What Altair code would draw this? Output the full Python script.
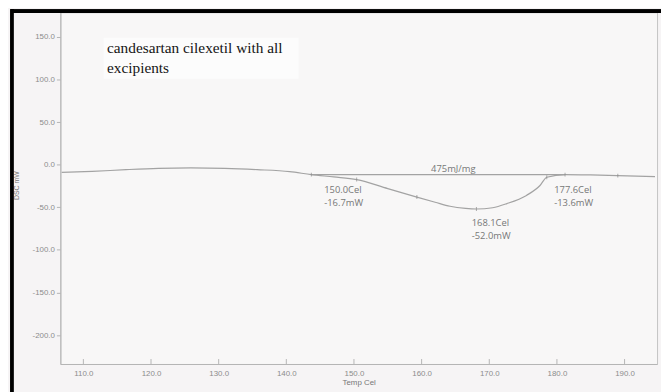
import altair as alt
import pandas as pd

# DSC curve (Temp Cel, DSC mW)
temps = [106.8, 111.3, 116.3, 121.1, 125.9, 130.9, 135.7, 140.5, 143.7, 147.0,
         150.4, 155.0, 159.3, 162.0, 164.2, 166.5, 168.1, 170.5, 172.6, 175.5,
         177.5, 178.5, 181.2, 185.0, 189.0, 194.5]
dsc = [-9.0, -7.8, -5.8, -4.3, -3.8, -4.3, -5.8, -8.1, -11.6, -14.3,
       -17.4, -28.0, -38.0, -44.0, -48.8, -51.3, -52.0, -50.5, -45.7, -36.0,
       -24.4, -14.7, -11.6, -12.0, -12.8, -14.0]

# integration baseline
base_t = [143.7, 181.2]
base_v = [-11.6, -11.6]

# small marks on the curve
mark_t = [143.7, 150.4, 159.3, 168.1, 178.5, 181.2, 189.0]
mark_v = [-11.6, -17.4, -38.0, -52.0, -14.7, -11.6, -12.8]

# annotations
ann_text = ["475mJ/mg", "150.0Cel", "-16.7mW", "168.1Cel", "-52.0mW", "177.6Cel", "-13.6mW"]
ann_t = [161.4, 145.6, 145.6, 167.4, 167.4, 179.6, 179.6]
ann_v = [-5.5, -30.0, -45.5, -68.5, -84.0, -30.0, -45.5]

title_lines = ["candesartan cilexetil with all", "excipients"]
title_t = [113.5, 113.5]
title_v = [137.5, 113.5]
box_t = [113.0, 141.8]
box_v = [149.0, 101.0]

x_ticks = [110, 120, 130, 140, 150, 160, 170, 180, 190]
y_ticks = [-200, -150, -100, -50, 0, 50, 100, 150]

X_DOM = [106.6, 194.8]
Y_DOM = [-234, 179]

W, H = 604, 356
GRAY = "#a3a3a3"
LBL = "#8c8c8c"

xs = alt.Scale(domain=X_DOM, nice=False, zero=False)
ys = alt.Scale(domain=Y_DOM, nice=False, zero=False)

curve_df = pd.DataFrame({"t": temps, "v": dsc})
base_df = pd.DataFrame({"t": base_t, "v": base_v})
mark_df = pd.DataFrame({"t": mark_t, "v": mark_v})
ann_df = pd.DataFrame({"t": ann_t, "v": ann_v, "s": ann_text})
title_df = pd.DataFrame({"t": title_t, "v": title_v, "s": title_lines})
box_df = pd.DataFrame({"t": [box_t[0]], "t2": [box_t[1]], "v": [box_v[0]], "v2": [box_v[1]]})
xt_df = pd.DataFrame({"t": x_ticks})

minus_fix = "replace(format(datum.value, '.1f'), '\u2212', '-')"

box = alt.Chart(box_df).mark_rect(color="#fcfcfc").encode(
    x=alt.X("t:Q", scale=xs), x2="t2:Q",
    y=alt.Y("v:Q", scale=ys), y2="v2:Q",
)

curve = alt.Chart(curve_df).mark_line(color=GRAY, strokeWidth=1.2, interpolate="monotone").encode(
    x=alt.X("t:Q", scale=xs, title="Temp Cel",
            axis=alt.Axis(values=x_ticks, labelExpr=minus_fix, ticks=False, grid=False,
                          domainColor="#b5b5b5", labelColor=LBL, labelFontSize=8,
                          labelFont="Liberation Sans", labelPadding=6,
                          titleFont="Liberation Sans", titleFontSize=8, titleFontWeight="normal",
                          titleColor="#777", titlePadding=1)),
    y=alt.Y("v:Q", scale=ys, title="DSC mW",
            axis=alt.Axis(values=y_ticks, labelExpr=minus_fix, grid=False, tickSize=4,
                          tickColor="#b5b5b5", domainColor="#b5b5b5", labelColor=LBL,
                          labelFontSize=8, labelFont="Liberation Sans", labelPadding=2,
                          titleFont="Liberation Sans", titleFontSize=7, titleFontWeight="normal",
                          titleColor="#777", titleX=-44, titleY=175, titleBaseline="middle")),
)

baseline = alt.Chart(base_df).mark_line(color=GRAY, strokeWidth=1.2).encode(
    x=alt.X("t:Q", scale=xs), y=alt.Y("v:Q", scale=ys))

marks = alt.Chart(mark_df).mark_tick(color="#8a8a8a", size=4, thickness=1, orient="vertical").encode(
    x=alt.X("t:Q", scale=xs), y=alt.Y("v:Q", scale=ys))

xticks_in = alt.Chart(xt_df).mark_rule(color="#b5b5b5", strokeWidth=1).encode(
    x=alt.X("t:Q", scale=xs), y=alt.value(H), y2=alt.value(H - 5))

ann = alt.Chart(ann_df).mark_text(align="left", baseline="middle", font="Open Sans",
                                  fontSize=9.5, color="#777777").encode(
    x=alt.X("t:Q", scale=xs), y=alt.Y("v:Q", scale=ys), text="s:N")

title = alt.Chart(title_df).mark_text(align="left", baseline="middle", font="Liberation Serif",
                                      fontSize=15.5, color="#141414").encode(
    x=alt.X("t:Q", scale=xs), y=alt.Y("v:Q", scale=ys), text="s:N")

frame_top = alt.Chart(xt_df).mark_rule(color="#000", strokeWidth=3).encode(
    x=alt.value(-49), x2=alt.value(W + 20), y=alt.value(-1))
frame_left = alt.Chart(xt_df).mark_rule(color="#000", strokeWidth=2.5).encode(
    x=alt.value(-49), y=alt.value(-3), y2=alt.value(H + 30))

chart = alt.layer(box, baseline, curve, marks, xticks_in, ann, title, frame_top, frame_left).properties(
    width=W, height=H,
    autosize=alt.AutoSizeParams(type="none"),
    padding={"left": 53, "top": 2, "right": 4, "bottom": 26},
    background="#f6f4f5",
).configure_view(stroke="#c4c4c4", strokeWidth=1, fill="#f8f7f7")

chart.save("out.html", embed_options={"renderer": "svg", "actions": False})
